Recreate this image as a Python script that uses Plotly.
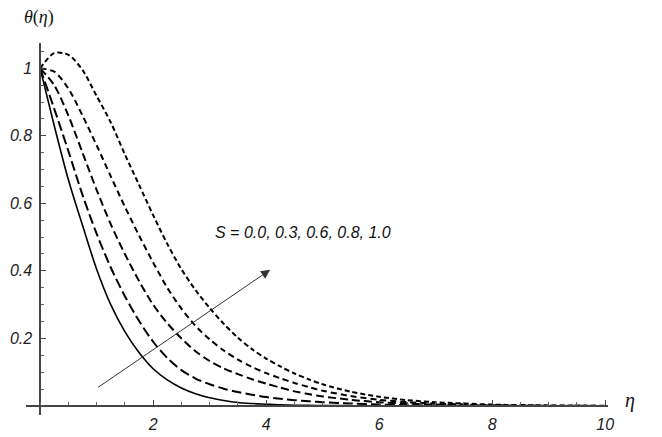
import plotly.graph_objects as go

# eta grid and temperature profiles theta(eta)
eta = [0, 0.25, 0.5, 0.75, 1, 1.25, 1.5, 1.75, 2, 2.25, 2.5, 2.75, 3, 3.25, 3.5, 3.75,
       4, 4.25, 4.5, 4.75, 5, 5.5, 6, 6.5, 7, 8, 9, 10]

theta_s00 = [1.0, 0.83, 0.67, 0.535, 0.405, 0.30, 0.22, 0.158, 0.11, 0.077, 0.053, 0.036,
             0.024, 0.016, 0.01, 0.007, 0.005, 0.003, 0.002, 0.0015, 0.001, 0.0005, 0.0,
             0.0, 0.0, 0.0, 0.0, 0.0]
theta_s03 = [1.0, 0.88, 0.755, 0.625, 0.51, 0.41, 0.325, 0.252, 0.19, 0.142, 0.106, 0.081,
             0.064, 0.051, 0.041, 0.033, 0.026, 0.021, 0.017, 0.014, 0.011, 0.007, 0.004,
             0.002, 0.001, 0.0, 0.0, 0.0]
theta_s06 = [1.0, 0.95, 0.86, 0.75, 0.64, 0.538, 0.45, 0.37, 0.30, 0.245, 0.20, 0.162,
             0.133, 0.111, 0.094, 0.079, 0.066, 0.054, 0.043, 0.035, 0.028, 0.018, 0.011,
             0.007, 0.004, 0.001, 0.0, 0.0]
theta_s08 = [1.0, 0.99, 0.94, 0.86, 0.772, 0.68, 0.59, 0.505, 0.425, 0.35, 0.288, 0.237,
             0.197, 0.164, 0.137, 0.115, 0.097, 0.082, 0.068, 0.056, 0.045, 0.029, 0.018,
             0.011, 0.007, 0.002, 0.0005, 0.0]
theta_s10 = [1.0, 1.045, 1.04, 0.995, 0.918, 0.84, 0.745, 0.655, 0.565, 0.48, 0.405, 0.343,
             0.29, 0.243, 0.202, 0.168, 0.14, 0.117, 0.096, 0.079, 0.064, 0.042, 0.027,
             0.017, 0.011, 0.004, 0.0015, 0.0005]

series = [theta_s00, theta_s03, theta_s06, theta_s08, theta_s10]
dashes = ['solid', '10px,4px', '8px,4px', '6px,4px', '5px,3px']
widths = [1.6, 2, 2, 2, 2]

xticks = [2, 4, 6, 8, 10]
yticks = [0.2, 0.4, 0.6, 0.8, 1.0]
yticktext = ['0.2', '0.4', '0.6', '0.8', '1']

# arrow (tail -> head) and label
arrow_tail = (1.0, 0.052)
arrow_head = (4.07, 0.403)
label_pos = (4.65, 0.515)

xr = [-0.25, 10.05]
yr = [-0.027, 1.075]

fig = go.Figure()
for th, d, w in zip(series, dashes, widths):
    fig.add_trace(go.Scatter(x=eta, y=th, mode='lines',
                             line=dict(color='black', width=w, dash=d,
                                       shape='spline', smoothing=0.8)))

tickfont = dict(family='Liberation Sans, Arial', size=16, color='#222', style='italic')

# the page body adds an 8px offset, so the figure is 8px smaller than the window
fig.update_layout(
    width=654, height=429,
    margin=dict(l=18, r=54, t=35, b=22),
    paper_bgcolor='white', plot_bgcolor='white',
    showlegend=False,
    xaxis=dict(range=xr, showgrid=False, zeroline=False, automargin=False,
               showline=True, linecolor='#444', linewidth=1.5,
               anchor='free', position=(0 - yr[0]) / (yr[1] - yr[0]),
               tickmode='array', tickvals=xticks,
               ticks='inside', ticklen=5, tickcolor='#444', tickwidth=1,
               minor=dict(dtick=0.5, tick0=0, ticks='inside', ticklen=3, tickcolor='#666'),
               tickfont=tickfont, ticklabelstandoff=4),
    yaxis=dict(range=yr, showgrid=False, zeroline=False, automargin=False,
               showline=True, linecolor='#444', linewidth=1.5,
               anchor='free', position=(0 - xr[0]) / (xr[1] - xr[0]),
               tickmode='array', tickvals=yticks, ticktext=yticktext,
               ticks='inside', ticklen=5, tickcolor='#444', tickwidth=1,
               minor=dict(dtick=0.05, tick0=0, ticks='inside', ticklen=3, tickcolor='#666'),
               tickfont=tickfont, ticklabelstandoff=4),
)

fig.add_annotation(x=arrow_head[0], y=arrow_head[1], ax=arrow_tail[0], ay=arrow_tail[1],
                   xref='x', yref='y', axref='x', ayref='y',
                   showarrow=True, arrowhead=2, arrowsize=1.8, arrowwidth=1,
                   arrowcolor='#333', text='')

fig.add_annotation(x=label_pos[0], y=label_pos[1], xref='x', yref='y',
                   text='S = 0.0, 0.3, 0.6, 0.8, 1.0', showarrow=False,
                   font=dict(family='Liberation Sans, Arial', size=16, color='#111', style='italic'))

fig.add_annotation(x=(39 - 26) / 582, y=(415 - 17) / 372, xref='paper', yref='paper',
                   xanchor='center', yanchor='middle', text='<i>θ</i>(<i>η</i>)',
                   showarrow=False,
                   font=dict(family='Liberation Serif, Times New Roman', size=18, color='#111'))

fig.add_annotation(x=(630 - 26) / 582, y=(415 - 400) / 372, xref='paper', yref='paper',
                   xanchor='center', yanchor='middle', text='<i>η</i>', showarrow=False,
                   font=dict(family='Liberation Serif, Times New Roman', size=20, color='#111'))

fig.write_html("out.html")
